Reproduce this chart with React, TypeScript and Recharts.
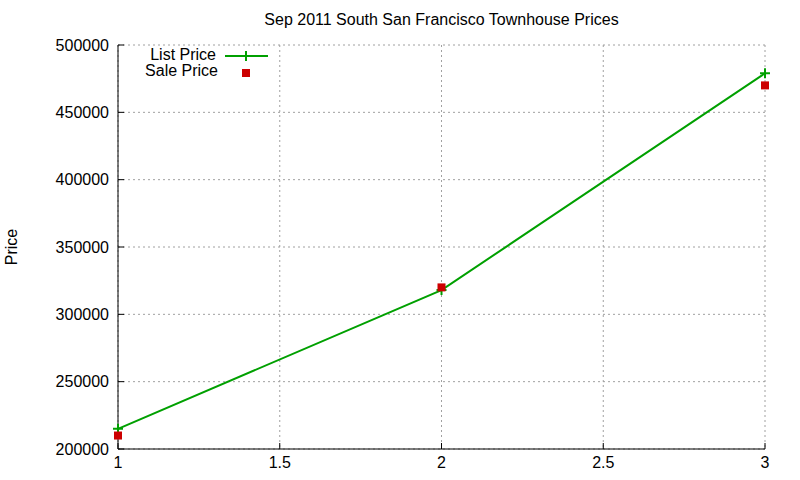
import React from 'react';
import { LineChart, Line, XAxis, YAxis, CartesianGrid } from 'recharts';

const xValues = [1, 2, 3];
const listPrices = [215000, 318000, 479000];
const salePrices = [210000, 320000, 470000];
const xTicks = [1, 1.5, 2, 2.5, 3];
const yTicks = [200000, 250000, 300000, 350000, 400000, 450000, 500000];
const chartTitle = 'Sep 2011 South San Francisco Townhouse Prices';
const yLabel = 'Price';
const seriesNames = ['List Price', 'Sale Price'];

const GREEN = '#00a000';
const RED = '#cc0000';
const FONT = '"Liberation Sans", Arial, Helvetica, sans-serif';

const data = xValues.map((x, i) => ({ x, list: listPrices[i], sale: salePrices[i] }));

const tickStyle = { fontSize: 16, fill: '#000', fontFamily: FONT };

const PlusDot = (props: any) => {
  const { cx, cy } = props;
  if (cx == null || cy == null) return null;
  return (
    <path
      key={`p-${cx}`}
      d={`M${cx - 5},${cy}h10M${cx},${cy - 5}v10`}
      stroke={GREEN}
      strokeWidth={2}
      fill="none"
    />
  );
};

const SquareDot = (props: any) => {
  const { cx, cy } = props;
  if (cx == null || cy == null) return null;
  return <rect key={`s-${cx}`} x={cx - 4} y={cy - 4} width={8} height={8} fill={RED} />;
};

export default function App() {
  return (
    <div style={{ position: 'absolute', left: 0, top: 0, width: 800, height: 480, background: '#fff', fontFamily: FONT }}>
      <LineChart
        width={800}
        height={480}
        data={data}
        margin={{ top: 45, right: 35, bottom: 0, left: 0 }}
      >
        <CartesianGrid
          stroke="#a0a0a0"
          strokeDasharray="2 3"
          horizontalValues={yTicks}
          verticalValues={xTicks}
        />
        <XAxis
          dataKey="x"
          type="number"
          domain={[1, 3]}
          ticks={xTicks}
          height={31}
          tickSize={-6}
          tickMargin={14}
          tick={tickStyle}
          axisLine={{ stroke: '#000' }}
          tickLine={{ stroke: '#000' }}
        />
        <XAxis
          xAxisId="top"
          orientation="top"
          dataKey="x"
          type="number"
          domain={[1, 3]}
          ticks={xTicks}
          height={0}
          tickSize={-6}
          tickFormatter={() => ''}
          axisLine={{ stroke: '#000' }}
          tickLine={{ stroke: '#000' }}
        />
        <YAxis
          type="number"
          domain={[200000, 500000]}
          ticks={yTicks}
          width={118}
          tickSize={-6}
          tickMargin={15}
          tick={tickStyle}
          axisLine={{ stroke: '#000' }}
          tickLine={{ stroke: '#000' }}
        />
        <YAxis
          yAxisId="right"
          orientation="right"
          type="number"
          domain={[200000, 500000]}
          ticks={yTicks}
          width={0}
          tickSize={-6}
          tickFormatter={() => ''}
          axisLine={{ stroke: '#000' }}
          tickLine={{ stroke: '#000' }}
        />
        <Line
          dataKey="list"
          name={seriesNames[0]}
          stroke={GREEN}
          strokeWidth={2}
          dot={PlusDot}
          activeDot={false}
          isAnimationActive={false}
        />
        <Line
          dataKey="sale"
          name={seriesNames[1]}
          stroke="none"
          dot={SquareDot}
          activeDot={false}
          isAnimationActive={false}
        />
      </LineChart>

      <div
        style={{
          position: 'absolute',
          left: 118,
          width: 647,
          top: 10,
          textAlign: 'center',
          fontSize: 16,
          lineHeight: '20px',
          color: '#000',
        }}
      >
        {chartTitle}
      </div>

      <div
        style={{
          position: 'absolute',
          left: 12,
          top: 247,
          transform: 'translate(-50%, -50%) rotate(-90deg)',
          fontSize: 16,
          lineHeight: '18px',
          color: '#000',
          whiteSpace: 'nowrap',
        }}
      >
        {yLabel}
      </div>

      <div style={{ position: 'absolute', left: 0, top: 47, width: 280, fontSize: 16, color: '#000' }}>
        <div style={{ position: 'relative', height: 16 }}>
          <span style={{ position: 'absolute', top: -1, width: 200, textAlign: 'right', lineHeight: '18px', left: 16 }}>
            {seriesNames[0]}
          </span>
          <svg style={{ position: 'absolute', left: 224, top: 0 }} width={46} height={16}>
            <line x1={1} y1={9} x2={44} y2={9} stroke={GREEN} strokeWidth={2} />
            <line x1={22} y1={4} x2={22} y2={14} stroke={GREEN} strokeWidth={2} />
          </svg>
        </div>
        <div style={{ position: 'relative', height: 16 }}>
          <span style={{ position: 'absolute', top: -1, width: 200, textAlign: 'right', lineHeight: '18px', left: 18 }}>
            {seriesNames[1]}
          </span>
          <svg style={{ position: 'absolute', left: 224, top: 0 }} width={46} height={16}>
            <rect x={18} y={6} width={8} height={8} fill={RED} />
          </svg>
        </div>
      </div>
    </div>
  );
}
